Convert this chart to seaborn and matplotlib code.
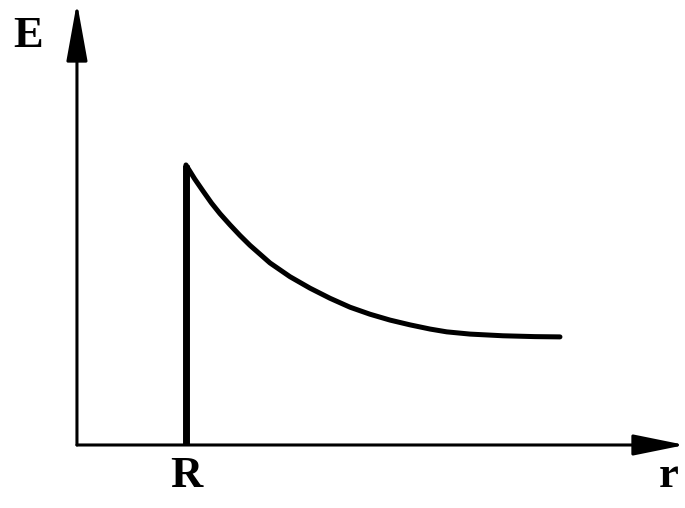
import matplotlib
matplotlib.use("Agg")
import matplotlib.pyplot as plt
import seaborn as sns
import pandas as pd

# field E(r): zero inside, jumps at r = R, then decays outside
r_values = [1.0, 1.08, 1.156, 1.234, 1.312, 1.404, 1.496, 1.587, 1.771, 1.954, 2.138, 2.321,
            2.505, 2.688, 2.872, 3.055, 3.239, 3.392, 3.606, 3.908, 4.2, 4.431]
e_values = [1.0, 0.950, 0.907, 0.864, 0.826, 0.786, 0.748, 0.713, 0.650, 0.601, 0.560, 0.524,
            0.492, 0.467, 0.446, 0.429, 0.414, 0.404, 0.396, 0.390, 0.387, 0.386]
r_edge = [1.0, 1.0]
e_edge = [0.0, 1.0]
tick_labels = ["R"]
axis_labels = ["E", "r"]

sns.set_style("white")

fig = plt.figure(figsize=(6.85, 5.08), dpi=100)
ax = fig.add_axes([0, 0, 1, 1])
ax.set_xlim(-0.706, 5.578)
ax.set_ylim(-0.225, 1.589)
ax.axis("off")

curve = pd.DataFrame({"r": r_values, "E": e_values})
edge = pd.DataFrame({"r": r_edge, "E": e_edge})
sns.lineplot(x="r", y="E", data=curve, sort=False, estimator=None, color="black",
             linewidth=3.6, ax=ax)
sns.lineplot(x="r", y="E", data=edge, sort=False, estimator=None, color="black",
             linewidth=5, solid_capstyle="butt", ax=ax)

# axes drawn as arrows
arrow = dict(arrowstyle="-|>,head_length=32,head_width=6.5", mutation_scale=1,
             color="black", lw=2.2, shrinkA=0, shrinkB=0)
ax.annotate("", xy=(5.578, 0), xytext=(0, 0), arrowprops=arrow)
ax.annotate("", xy=(0, 1.58), xytext=(0, 0),
            arrowprops=dict(arrow, arrowstyle="-|>,head_length=36,head_width=6.5"))

font = dict(family="Liberation Serif", weight="bold", size=32, color="black")
ax.text(-0.45, 1.46, axis_labels[0], ha="center", va="center", **font)
ax.text(5.43, -0.11, axis_labels[1], ha="center", va="center", **font)
ax.text(r_edge[0], -0.11, tick_labels[0], ha="center", va="center", **font)

fig.savefig("out.png", dpi=100)
